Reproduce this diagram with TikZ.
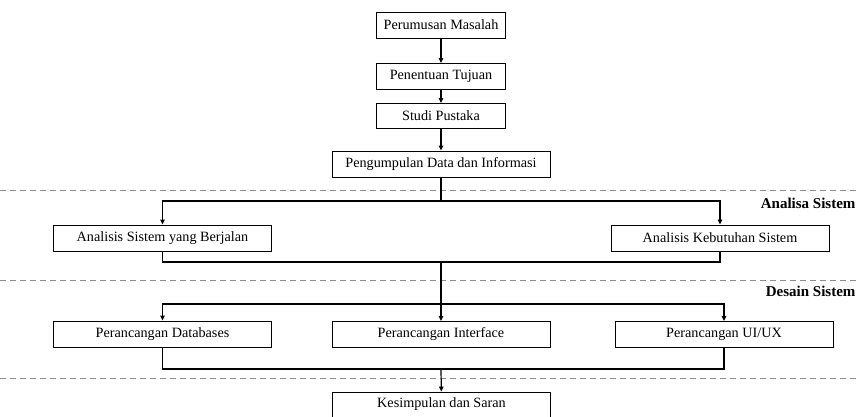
\documentclass[tikz,border=0pt]{standalone}
\usepackage{fontspec}
\setmainfont{Liberation Serif}
\usetikzlibrary{arrows.meta, positioning, calc}

\begin{document}
\begin{tikzpicture}[
      x=1pt, y=-1pt,
      font=\fontsize{14.2}{16}\selectfont,
      box/.style={draw, line width=0.9pt, inner sep=0pt, minimum height=26pt},
      small/.style={box, minimum width=129pt},
      wide/.style={box, minimum width=218pt},
      ln/.style={line width=1.2pt},
      arr/.style={ln, -{Triangle[length=5pt, width=4.5pt]}},
      sep/.style={black!45, line width=0.8pt, dash pattern=on 6pt off 4pt},
      phase/.style={font=\fontsize{15}{17}\selectfont\bfseries, anchor=east},
    ]
    \useasboundingbox (0,0) rectangle (859,417);

    % phase separators
    \draw[sep] (0,190) -- (859,190);
    \draw[sep] (0,280) -- (859,280);
    \draw[sep] (0,378) -- (859,378);
    \node[phase] (analisa) at (859,203) {Analisa Sistem};
    \node[phase] (desain) at (859,291) {Desain Sistem};

    % top chain
    \node[small] (masalah) at (441,25) {Perumusan Masalah};
    \node[small] (tujuan) at (441,76.5) {Penentuan Tujuan};
    \node[small, minimum height=25pt] (pustaka) at (441,116) {Studi Pustaka};
    \node[wide] (data) at (441,164) {Pengumpulan Data dan Informasi};
    \draw[arr] (masalah) -- (tujuan);
    \draw[arr] (tujuan) -- (pustaka);
    \draw[arr] (pustaka) -- (data);

    % analisa sistem
    \node[wide] (berjalan) at (162.5,238) {Analisis Sistem yang Berjalan};
    \node[wide] (kebutuhan) at (720,238) {Analisis Kebutuhan Sistem};
    \coordinate (split1) at (441,201);
    \coordinate (join1) at (441,262);
    \draw[ln] (data) -- (split1);
    \draw[arr] (split1) -| (berjalan);
    \draw[arr] (split1) -| (kebutuhan);
    \draw[ln] (berjalan) |- (join1) -| (kebutuhan);

    % desain sistem
    \node[wide] (database) at (162.5,334) {Perancangan Databases};
    \node[wide] (interface) at (441,334.5) {Perancangan Interface};
    \node[wide] (uiux) at (724,334.5) {Perancangan UI/UX};
    \coordinate (split2) at (441,304);
    \coordinate (join2) at (441,369);
    \draw[arr] (join1) -- (interface);
    \draw[arr] (split2) -| (database);
    \draw[arr] (split2) -| (uiux);
    \draw[ln] (database) |- (join2) -| (uiux);

    % hasil
    \node[wide, minimum height=25pt] (kesimpulan) at (441.5,404.5) {Kesimpulan dan Saran};
    \draw[arr] (join2) -- (kesimpulan);
\end{tikzpicture}
\end{document}
